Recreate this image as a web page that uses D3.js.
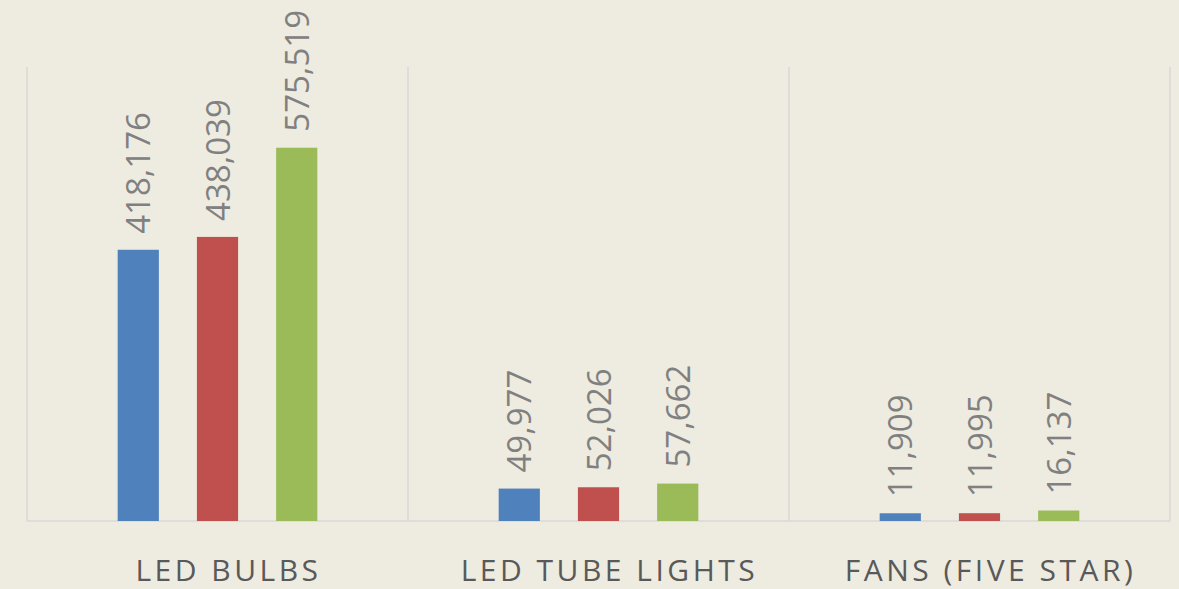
<!DOCTYPE html>
<html>
<head>
<meta charset="utf-8">
<script src="https://cdn.jsdelivr.net/npm/d3@7"></script>
<style>
  html, body { margin: 0; padding: 0; background: #eeebe0; }
  svg { display: block; }
</style>
</head>
<body>
<svg></svg>
<script>
const width = 1179;
const height = 589;

const categories = ['LED BULBS', 'LED TUBE LIGHTS', 'FANS (FIVE STAR)'];
const seriesNames = ['s1', 's2', 's3'];
const series1 = [418176, 49977, 11909];
const series2 = [438039, 52026, 11995];
const series3 = [575519, 57662, 16137];
const colors = ['#4f81bd', '#c0504d', '#9bbb59'];

const margin = {top: 67, right: 9, bottom: 68, left: 27};

const svg = d3.select('svg')
	.attr('width', width)
	.attr('height', height);

const x = d3.scaleBand()
	.domain(categories)
	.range([margin.left, width - margin.right]);

const x1 = d3.scaleBand()
	.domain(seriesNames)
	.range([x.bandwidth() * 0.238, x.bandwidth() * 0.762])
	.paddingInner(0.48);

const y = d3.scaleLinear()
	.domain([0, 700000])
	.range([height - margin.bottom, margin.top]);

const rows = categories.map((c, i) => ({
	cat: c,
	vals: [series1[i], series2[i], series3[i]]
}));

// vertical category separators
const edges = categories.map(c => x(c)).concat([x(categories[categories.length - 1]) + x.bandwidth()]);
svg.selectAll('line.grid')
	.data(edges)
	.enter()
	.append('line')
	.attr('class', 'grid')
	.attr('x1', d => d)
	.attr('x2', d => d)
	.attr('y1', margin.top)
	.attr('y2', y(0))
	.attr('stroke', '#d9d9d9')
	.attr('stroke-width', 1.5);

// baseline
svg.append('line')
	.attr('x1', margin.left)
	.attr('x2', width - margin.right)
	.attr('y1', y(0))
	.attr('y2', y(0))
	.attr('stroke', '#d9d9d9')
	.attr('stroke-width', 1.5);

const groups = svg.selectAll('g.grp')
	.data(rows)
	.enter()
	.append('g')
	.attr('class', 'grp')
	.attr('transform', d => `translate(${x(d.cat)},0)`);

groups.selectAll('rect')
	.data(d => d.vals.map((v, i) => ({key: seriesNames[i], v: v, i: i})))
	.enter()
	.append('rect')
	.attr('x', d => x1(d.key))
	.attr('width', x1.bandwidth())
	.attr('y', d => y(d.v))
	.attr('height', d => y(0) - y(d.v))
	.attr('fill', d => colors[d.i]);

groups.selectAll('text')
	.data(d => d.vals.map((v, i) => ({key: seriesNames[i], v: v, i: i})))
	.enter()
	.append('text')
	.attr('transform', d => `translate(${x1(d.key) + x1.bandwidth() / 2 + 12},${y(d.v) - 16}) rotate(-90)`)
	.attr('font-family', '"Open Sans", sans-serif')
	.attr('font-size', 33)
	.attr('fill', '#808080')
	.text(d => d3.format(',')(d.v));

// category labels
svg.selectAll('text.cat')
	.data(categories)
	.enter()
	.append('text')
	.attr('class', 'cat')
	.attr('x', d => x(d) + x.bandwidth() / 2 + 11)
	.attr('y', 581)
	.attr('text-anchor', 'middle')
	.attr('font-family', '"Open Sans", sans-serif')
	.attr('font-size', 30)
	.attr('letter-spacing', 3.5)
	.attr('fill', '#595959')
	.text(d => d);
</script>
</body>
</html>
